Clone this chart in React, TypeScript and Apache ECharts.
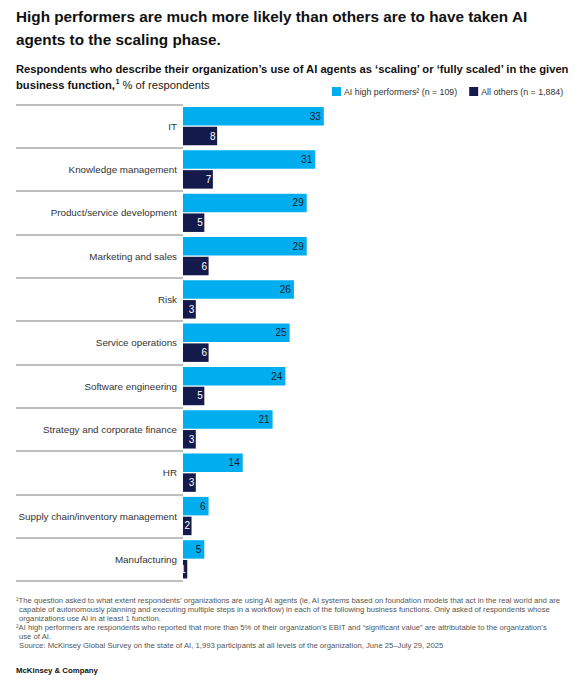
import React, { useEffect, useRef } from "react";
import * as echarts from "echarts";

const categories = [
  "IT",
  "Knowledge management",
  "Product/service development",
  "Marketing and sales",
  "Risk",
  "Service operations",
  "Software engineering",
  "Strategy and corporate finance",
  "HR",
  "Supply chain/inventory management",
  "Manufacturing",
];
const highPerformers = [33, 31, 29, 29, 26, 25, 24, 21, 14, 6, 5];
const allOthers = [8, 7, 5, 6, 3, 6, 5, 3, 3, 2, 1];
const seriesNames = ["AI high performers² (n = 109)", "All others (n = 1,884)"];

const titleLines = [
  "High performers are much more likely than others are to have taken AI",
  "agents to the scaling phase.",
];
const subtitleLine1 =
  "Respondents who describe their organization’s use of AI agents as ‘scaling’ or ‘fully scaled’ in the given";
const footnotes = [
  { t: "¹The question asked to what extent respondents’ organizations are using AI agents (ie, AI systems based on foundation models that act in the real world and are", indent: false },
  { t: "capable of autonomously planning and executing multiple steps in a workflow) in each of the following business functions. Only asked of respondents whose", indent: true },
  { t: "organizations use AI in at least 1 function.", indent: true },
  { t: "²AI high performers are respondents who reported that more than 5% of their organization’s EBIT and “significant value” are attributable to the organization’s", indent: false },
  { t: "use of AI.", indent: true },
  { t: "Source: McKinsey Global Survey on the state of AI, 1,993 participants at all levels of the organization, June 25–July 29, 2025", indent: true },
];

const FONT = "'Liberation Sans', Arial, sans-serif";
const CYAN = "#00AEEF";
const NAVY = "#141A4B";

export default function App() {
  const ref = useRef<HTMLDivElement>(null);
  useEffect(() => {
    document.body.style.margin = "0";
    const chart = echarts.init(ref.current!, null, { renderer: "svg" });
    const top = 104.5;
    const height = 476.5;
    const graphic: any[] = [];
    titleLines.forEach((l, i) => {
      graphic.push({
        type: "text",
        left: 16,
        top: 8.5 + i * 23,
        style: { text: l, font: `bold 15.3px ${FONT}`, fill: "#111" },
      });
    });
    graphic.push({
      type: "text",
      left: 16,
      top: 63,
      style: { text: subtitleLine1, font: `bold 11.2px ${FONT}`, fill: "#111" },
    });
    graphic.push({
      type: "text",
      left: 16,
      top: 78,
      style: {
        text: "{b|business function,}{s|1}{n| % of respondents}",
        rich: {
          b: { font: `bold 11.2px ${FONT}`, fill: "#111", verticalAlign: "bottom" },
          s: { font: `bold 6.5px ${FONT}`, fill: "#111", verticalAlign: "top", padding: [0, 0, 5, 1] },
          n: { font: `11.2px ${FONT}`, fill: "#222", verticalAlign: "bottom" },
        },
      },
    });
    footnotes.forEach((f, i) => {
      graphic.push({
        type: "text",
        left: f.indent ? 19 : 16,
        top: 596.5 + i * 8.9,
        style: { text: f.t, font: `7.7px ${FONT}`, fill: "#555" },
      });
    });
    graphic.push({
      type: "text",
      left: 16,
      top: 666,
      style: { text: "McKinsey & Company", font: `bold 7.8px ${FONT}`, fill: "#111" },
    });

    chart.setOption({
      animation: false,
      textStyle: { fontFamily: FONT },
      graphic,
      legend: {
        left: 332,
        top: 87,
        padding: 0,
        itemWidth: 9,
        itemHeight: 9,
        itemGap: 12,
        icon: "rect",
        data: seriesNames,
        textStyle: { fontSize: 8.8, color: "#333", padding: [0, 0, 0, -2] },
      },
      grid: [
        { left: 183, top, height, width: 256 },
        { left: 16, top, height, width: 167 },
      ],
      xAxis: [
        { type: "value", min: 0, max: 60, show: false, gridIndex: 0 },
        { type: "value", min: 0, max: 1, show: false, gridIndex: 1 },
      ],
      yAxis: [
        {
          type: "category",
          gridIndex: 0,
          data: categories,
          inverse: true,
          axisLine: { show: false },
          axisTick: { show: false },
          splitLine: { show: false },
          axisLabel: { margin: 6, fontSize: 9.8, color: "#333", fontFamily: FONT },
        },
        {
          type: "category",
          gridIndex: 1,
          data: categories,
          inverse: true,
          axisLine: { show: false },
          axisTick: { show: false },
          axisLabel: { show: false },
          splitLine: { show: true, lineStyle: { color: "#aaa", width: 1.5 } },
        },
      ],
      series: [
        {
          name: seriesNames[0],
          type: "bar",
          xAxisIndex: 0,
          yAxisIndex: 0,
          data: highPerformers,
          barWidth: 18.5,
          barGap: "7%",
          itemStyle: { color: CYAN },
          label: {
            show: true,
            position: "insideRight",
            distance: 3,
            color: "#1a1a2a",
            fontSize: 10,
            fontFamily: FONT,
          },
        },
        {
          name: seriesNames[1],
          type: "bar",
          xAxisIndex: 0,
          yAxisIndex: 0,
          data: allOthers,
          barWidth: 18.5,
          barGap: "7%",
          itemStyle: { color: NAVY },
          label: {
            show: true,
            position: "insideRight",
            distance: 1.5,
            color: "#fff",
            fontSize: 10,
            fontFamily: FONT,
          },
        },
      ],
    });
    return () => chart.dispose();
  }, []);
  return <div ref={ref} style={{ width: 579, height: 687 }} />;
}
